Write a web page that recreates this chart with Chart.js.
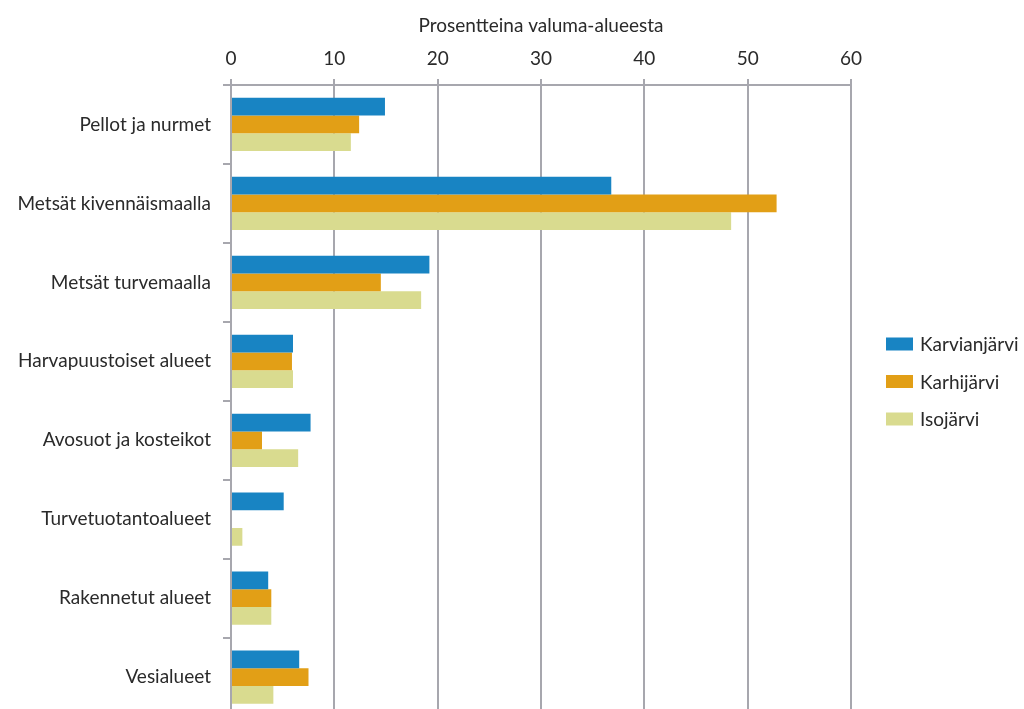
<!DOCTYPE html>
<html><head><meta charset="utf-8">
<script src="https://cdn.jsdelivr.net/npm/chart.js@4"></script>
<style>html,body{margin:0;padding:0;overflow:hidden;background:#fff}#wrap{width:1024px;height:740px}</style>
</head><body><div id="wrap"><canvas id="c" width="1024" height="740"></canvas></div>
<script>
const categories = ["Pellot ja nurmet","Metsät kivennäismaalla","Metsät turvemaalla","Harvapuustoiset alueet","Avosuot ja kosteikot","Turvetuotantoalueet","Rakennetut alueet","Vesialueet"];
const karvianjarvi = [14.9, 36.8, 19.2, 6.0, 7.7, 5.1, 3.6, 6.6];
const karhijarvi = [12.4, 52.8, 14.5, 5.9, 3.0, 0, 3.9, 7.5];
const isojarvi = [11.6, 48.4, 18.4, 6.0, 6.5, 1.1, 3.9, 4.1];
const seriesNames = ["Karvianjärvi","Karhijärvi","Isojärvi"];
const xTitle = "Prosentteina valuma-alueesta";
const xMin = 0, xMax = 60, xStep = 10;

const colors = ["#1884c3","#e29f16","#d9db8f"];
const FONT = "Lato, 'Open Sans', sans-serif";
const gridCol = "#a7a7ae";
const textCol = "#2a2a2a";

const legendPlugin = {
  id: 'sideLegend',
  afterDraw(chart) {
    const ctx = chart.ctx;
    ctx.save();
    ctx.font = "19px " + FONT;
    ctx.textBaseline = "middle";
    ctx.textAlign = "left";
    chart.data.datasets.forEach((ds, i) => {
      const cy = 344 + i * 37.5;
      ctx.fillStyle = ds.backgroundColor;
      ctx.fillRect(886, cy - 6.5, 27, 13);
      ctx.fillStyle = textCol;
      ctx.fillText(ds.label, 920, cy + 1);
    });
    ctx.restore();
  }
};

new Chart(document.getElementById('c'), {
  type: 'bar',
  data: {
    labels: categories,
    datasets: [
      {label: seriesNames[0], data: karvianjarvi, backgroundColor: colors[0]},
      {label: seriesNames[1], data: karhijarvi, backgroundColor: colors[1]},
      {label: seriesNames[2], data: isojarvi, backgroundColor: colors[2]}
    ]
  },
  options: {
    indexAxis: 'y',
    responsive: false,
    animation: false,
    devicePixelRatio: 1,
    datasets: {bar: {categoryPercentage: 0.675, barPercentage: 1.0, borderWidth: 0}},
    layout: {padding: {left: 0, right: 173, top: 0, bottom: 9}},
    plugins: {legend: {display: false}, tooltip: {enabled: false}},
    scales: {
      x: {
        position: 'top',
        min: xMin, max: xMax,
        ticks: {stepSize: xStep, font: {family: FONT, size: 19}, color: textCol, padding: 9},
        grid: {color: gridCol, lineWidth: 2, tickLength: 6, drawTicks: true},
        border: {color: gridCol, width: 2},
        title: {display: true, text: xTitle, font: {family: FONT, size: 19}, color: textCol, padding: {top: 14, bottom: 4}},
        afterFit(scale) { scale.height = 85; }
      },
      y: {
        ticks: {font: {family: FONT, size: 19}, color: textCol, padding: 12},
        grid: {drawOnChartArea: false, color: gridCol, lineWidth: 2, tickLength: 8, offset: true},
        border: {color: gridCol, width: 2},
        afterFit(scale) { scale.width = 231; }
      }
    }
  },
  plugins: [legendPlugin]
});
</script>
</body></html>
